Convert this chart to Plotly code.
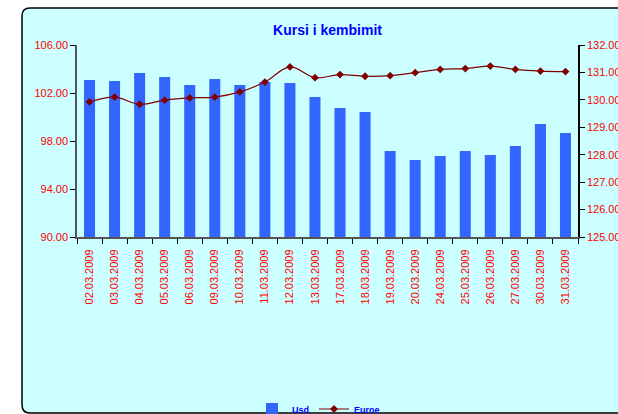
import plotly.graph_objects as go

dates = ["02.03.2009", "03.03.2009", "04.03.2009", "05.03.2009", "06.03.2009",
         "09.03.2009", "10.03.2009", "11.03.2009", "12.03.2009", "13.03.2009",
         "17.03.2009", "18.03.2009", "19.03.2009", "20.03.2009", "24.03.2009",
         "25.03.2009", "26.03.2009", "27.03.2009", "30.03.2009", "31.03.2009"]
usd = [103.08, 103.00, 103.67, 103.33, 102.67, 103.17, 102.67, 102.92, 102.83, 101.67,
       100.75, 100.42, 97.17, 96.42, 96.75, 97.17, 96.83, 97.58, 99.42, 98.67]
euro = [129.93, 130.10, 129.84, 129.99, 130.07, 130.10, 130.29, 130.65, 131.20, 130.81,
        130.92, 130.86, 130.88, 130.99, 131.11, 131.14, 131.23, 131.11, 131.05, 131.03]
left_ticks = [90, 94, 98, 102, 106]
right_ticks = [125, 126, 127, 128, 129, 130, 131, 132]

W, H = 618, 414
ML, MT = 77, 45
PW, PH = 501, 192
MR = W - ML - PW
MB = H - MT - PH

def px(x):  # page pixel -> paper x
    return (x - ML) / PW

def py(y):  # page pixel -> paper y
    return (MT + PH - y) / PH

FONT = "Arial, Liberation Sans, sans-serif"
RED = "#FF0000"

fig = go.Figure()
fig.add_trace(go.Bar(x=dates, y=usd, name="<b>Usd</b>", marker_color="#3366FF",
                     marker_line_width=0, width=0.44))
fig.add_trace(go.Scatter(x=dates, y=euro, name="<b>Euroe</b>", yaxis="y2",
                         mode="lines+markers", line=dict(color="#800000", width=1.2, shape="spline"),
                         marker=dict(symbol="diamond", size=6, color="#800000")))

# frame with rounded corners
X0, X1 = px(22), px(640)
Y0, Y1 = py(8), py(413)
rx, ry = 8 / PW, 8 / PH
path = (f"M {X0},{Y0 - ry} Q {X0},{Y0} {X0 + rx},{Y0} L {X1},{Y0} L {X1},{Y1} "
        f"L {X0 + rx},{Y1} Q {X0},{Y1} {X0},{Y1 + ry} Z")
fig.add_shape(type="path", path=path, xref="paper", yref="paper",
              fillcolor="#CCFFFF", line=dict(color="black", width=1.5), layer="below")

fig.update_layout(
    width=W, height=H,
    margin=dict(l=ML, r=MR, t=MT, b=MB, pad=0, autoexpand=False),
    paper_bgcolor="white", plot_bgcolor="rgba(0,0,0,0)",
    font=dict(family=FONT),
    title=dict(text="<b>Kursi i kembimit</b>", x=0.5, xref="paper", xanchor="center",
               y=1 - 30 / H, yanchor="middle",
               font=dict(size=14, color="#0000FF", family=FONT)),
    showlegend=True,
    legend=dict(orientation="h", x=0.482, xanchor="center", y=py(409), yanchor="middle",
                font=dict(size=9, color="#0000FF", family=FONT), bgcolor="rgba(0,0,0,0)",
                itemwidth=30, tracegroupgap=0),
    xaxis=dict(type="category", range=[-0.5, len(dates) - 0.5], tickangle=-90,
               tickfont=dict(size=11, color=RED), ticks="outside", tickson="boundaries",
               ticklen=5, tickcolor="black", showline=True, linecolor="#555555", linewidth=2,
               showgrid=False, ticklabelstandoff=6),
    yaxis=dict(range=[90, 106], tickvals=left_ticks, tickformat=".2f",
               tickfont=dict(size=11, color=RED), ticks="outside", ticklen=5,
               tickcolor="black", showline=True, linecolor="#555555", linewidth=1.5,
               showgrid=False, zeroline=False),
    yaxis2=dict(range=[125, 132], tickvals=right_ticks, tickformat=".2f", overlaying="y",
                side="right", tickfont=dict(size=11, color=RED), ticks="outside", ticklen=5,
                tickcolor="black", showline=True, linecolor="black", linewidth=1.5,
                showgrid=False, zeroline=False),
    bargap=0.5,
)

fig.write_html("out.html", config={"displayModeBar": False},
               post_script="document.body.style.margin='0';document.body.style.overflow='hidden';")
